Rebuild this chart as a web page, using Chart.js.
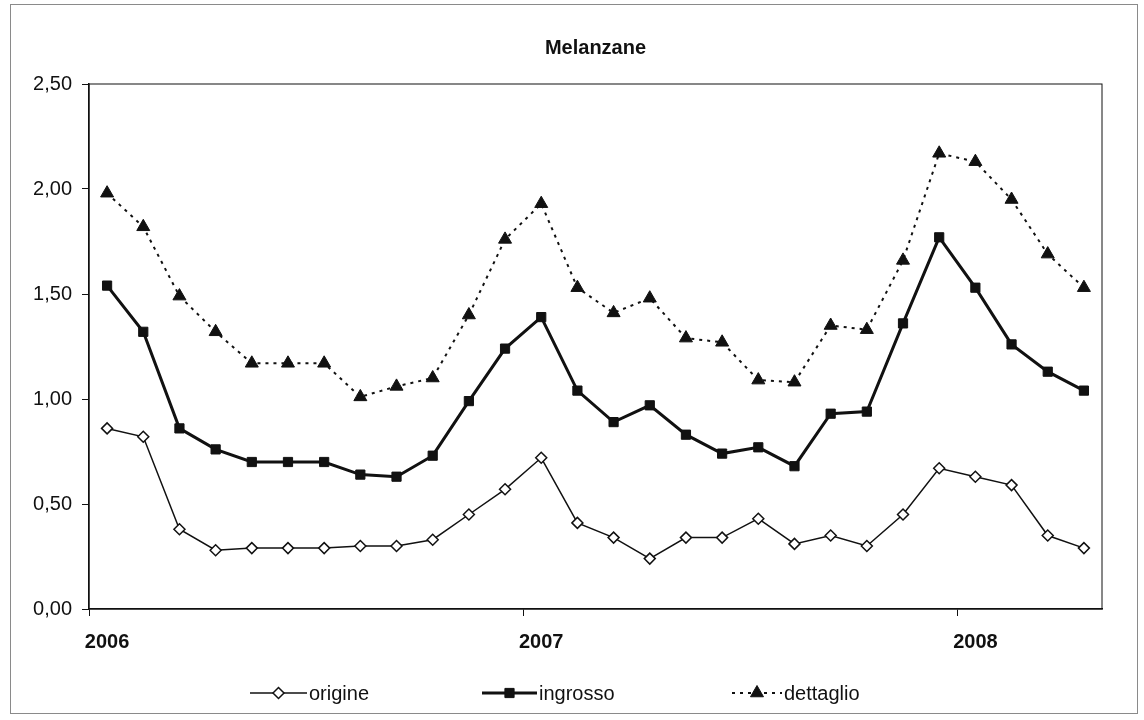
<!DOCTYPE html>
<html>
<head>
<meta charset="utf-8">
<title>Melanzane</title>
<script src="https://cdn.jsdelivr.net/npm/chart.js@4"></script>
<style>
  body { margin: 0; background: #fff; }
  canvas { display: block; }
</style>
</head>
<body>
<canvas id="chart" width="1144" height="720"></canvas>
<script>
// months from gen 2006 to apr 2008
const mesi = [
  'gen 2006', 'feb 2006', 'mar 2006', 'apr 2006', 'mag 2006', 'giu 2006',
  'lug 2006', 'ago 2006', 'set 2006', 'ott 2006', 'nov 2006', 'dic 2006',
  'gen 2007', 'feb 2007', 'mar 2007', 'apr 2007', 'mag 2007', 'giu 2007',
  'lug 2007', 'ago 2007', 'set 2007', 'ott 2007', 'nov 2007', 'dic 2007',
  'gen 2008', 'feb 2008', 'mar 2008', 'apr 2008'
];

const origine = [0.86, 0.82, 0.38, 0.28, 0.29, 0.29, 0.29, 0.30, 0.30, 0.33, 0.45, 0.57,
  0.72, 0.41, 0.34, 0.24, 0.34, 0.34, 0.43, 0.31, 0.35, 0.30, 0.45, 0.67,
  0.63, 0.59, 0.35, 0.29];
const ingrosso = [1.54, 1.32, 0.86, 0.76, 0.70, 0.70, 0.70, 0.64, 0.63, 0.73, 0.99, 1.24,
  1.39, 1.04, 0.89, 0.97, 0.83, 0.74, 0.77, 0.68, 0.93, 0.94, 1.36, 1.77,
  1.53, 1.26, 1.13, 1.04];
const dettaglio = [1.98, 1.82, 1.49, 1.32, 1.17, 1.17, 1.17, 1.01, 1.06, 1.10, 1.40, 1.76,
  1.93, 1.53, 1.41, 1.48, 1.29, 1.27, 1.09, 1.08, 1.35, 1.33, 1.66, 2.17,
  2.13, 1.95, 1.69, 1.53];

const titolo = 'Melanzane';
const FONT = "'Liberation Sans', Arial, sans-serif";

// legend positions
const legendItems = [
  { x: 250, w: 57 },
  { x: 482, w: 55 },
  { x: 732, w: 50 }
];

const decor = {
  id: 'decor',
  beforeDraw(chart) {
    const ctx = chart.ctx;
    ctx.save();
    ctx.fillStyle = '#fff';
    ctx.fillRect(0, 0, chart.width, chart.height);
    ctx.restore();
  },
  afterDraw(chart) {
    const { ctx, chartArea: a } = chart;
    ctx.save();
    // outer frame
    ctx.strokeStyle = '#8a8a8a';
    ctx.lineWidth = 1;
    ctx.strokeRect(10.5, 4.5, 1127, 709);
    // plot area border
    ctx.strokeStyle = '#111';
    ctx.strokeRect(a.left, a.top, a.right - a.left, a.bottom - a.top);
    // title
    ctx.fillStyle = '#111';
    ctx.font = 'bold 20px ' + FONT;
    ctx.textAlign = 'center';
    ctx.textBaseline = 'middle';
    ctx.fillText(titolo, (a.left + a.right) / 2, 48);

    // legend
    const y = 693;
    ctx.font = '20px ' + FONT;
    ctx.textAlign = 'left';
    chart.data.datasets.forEach((ds, i) => {
      const it = legendItems[i];
      ctx.save();
      ctx.strokeStyle = ds.borderColor;
      ctx.lineWidth = ds.borderWidth;
      ctx.setLineDash(ds.borderDash || []);
      ctx.beginPath();
      ctx.moveTo(it.x, y);
      ctx.lineTo(it.x + it.w, y);
      ctx.stroke();
      ctx.restore();
      ctx.save();
      ctx.fillStyle = ds.pointBackgroundColor;
      ctx.strokeStyle = ds.borderColor;
      ctx.lineWidth = ds.pointBorderWidth;
      Chart.helpers.drawPoint(ctx, {
        pointStyle: ds.pointStyle,
        radius: ds.pointRadius,
        borderWidth: ds.pointBorderWidth,
        rotation: 0
      }, it.x + it.w / 2, y);
      ctx.restore();
      ctx.fillStyle = '#111';
      ctx.fillText(ds.label, it.x + it.w + 2, y + 1);
    });
    ctx.restore();
  }
};

new Chart(document.getElementById('chart'), {
  type: 'line',
  data: {
    labels: mesi,
    datasets: [
      {
        label: 'origine',
        data: origine,
        borderColor: '#111',
        borderWidth: 1.5,
        pointStyle: 'rectRot',
        pointRadius: 5.5,
        pointBackgroundColor: '#fff',
        pointBorderColor: '#111',
        pointBorderWidth: 1.5
      },
      {
        label: 'ingrosso',
        data: ingrosso,
        borderColor: '#111',
        borderWidth: 3,
        pointStyle: 'rect',
        pointRadius: 6.5,
        pointBackgroundColor: '#111',
        pointBorderColor: '#111',
        pointBorderWidth: 1
      },
      {
        label: 'dettaglio',
        data: dettaglio,
        borderColor: '#111',
        borderWidth: 2,
        borderDash: [3, 5],
        pointStyle: 'triangle',
        pointRadius: 7.5,
        pointBackgroundColor: '#111',
        pointBorderColor: '#111',
        pointBorderWidth: 1
      }
    ]
  },
  options: {
    responsive: false,
    animation: false,
    devicePixelRatio: 1,
    layout: { padding: { left: 0, right: 42, top: 84, bottom: 0 } },
    plugins: {
      legend: { display: false },
      title: { display: false },
      tooltip: { enabled: false }
    },
    scales: {
      x: {
        type: 'category',
        offset: true,
        afterFit: (s) => { s.height = 111; },
        grid: {
          offset: true,
          drawOnChartArea: false,
          tickLength: 7,
          color: (c) => (c.index % 12 === 0 ? '#111' : 'rgba(0,0,0,0)')
        },
        border: { color: '#111', width: 1.5 },
        ticks: {
          autoSkip: false,
          maxRotation: 0,
          padding: 14,
          color: '#111',
          font: { family: FONT, size: 20, weight: 'bold' },
          callback: function (val, i) {
            const m = mesi[i];
            return m.startsWith('gen') ? m.slice(4) : '';
          }
        }
      },
      y: {
        min: 0,
        max: 2.5,
        afterFit: (s) => { s.width = 89; },
        grid: { drawOnChartArea: false, tickLength: 7, color: '#111' },
        border: { color: '#111', width: 1.5 },
        ticks: {
          stepSize: 0.5,
          padding: 10,
          color: '#111',
          font: { family: FONT, size: 20 },
          callback: (v) => v.toFixed(2).replace('.', ',')
        }
      }
    }
  },
  plugins: [decor]
});
</script>
</body>
</html>
